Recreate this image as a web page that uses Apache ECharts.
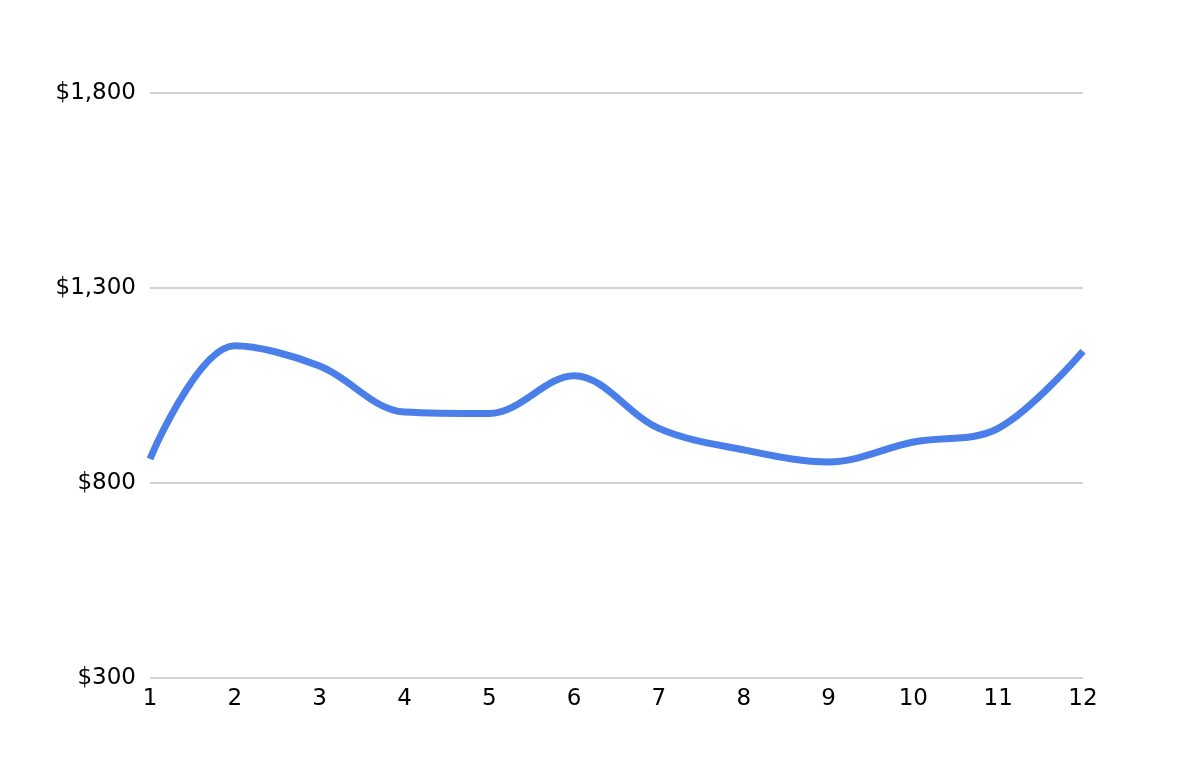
<!DOCTYPE html>
<html><head><meta charset="utf-8">
<script src="https://cdn.jsdelivr.net/npm/echarts@6/dist/echarts.min.js"></script>
<style>html,body{margin:0;padding:0;background:#fff}#c{width:1182px;height:780px}</style>
</head><body><div id="c"></div>
<script>
const categories = ['1','2','3','4','5','6','7','8','9','10','11','12'];
const values = [862, 1152, 1100, 982, 978, 1075, 940, 885, 854, 905, 940, 1138];
const yTicks = [300, 800, 1300, 1800];

const chart = echarts.init(document.getElementById('c'));
chart.setOption({
  animation: false,
  grid: {left: 150, right: 99, top: 93, bottom: 102},
  xAxis: {
    type: 'category', data: categories, boundaryGap: false,
    axisLine: {show: false}, axisTick: {show: false},
    axisLabel: {color: '#000', fontFamily: 'DejaVu Sans', fontSize: 23, margin: 10}
  },
  yAxis: {
    type: 'value', min: yTicks[0], max: yTicks[yTicks.length-1], interval: 500,
    axisLine: {show: false}, axisTick: {show: false},
    axisLabel: {color: '#000', fontFamily: 'DejaVu Sans', fontSize: 23, margin: 14,
      formatter: v => '$' + v.toLocaleString('en-US')},
    splitLine: {lineStyle: {color: '#c4c4c4', width: 1.5}}
  },
  series: [{
    type: 'line', data: values, smooth: 0.35, symbol: 'none',
    lineStyle: {color: '#4a7fea', width: 7}
  }]
});
</script></body></html>
